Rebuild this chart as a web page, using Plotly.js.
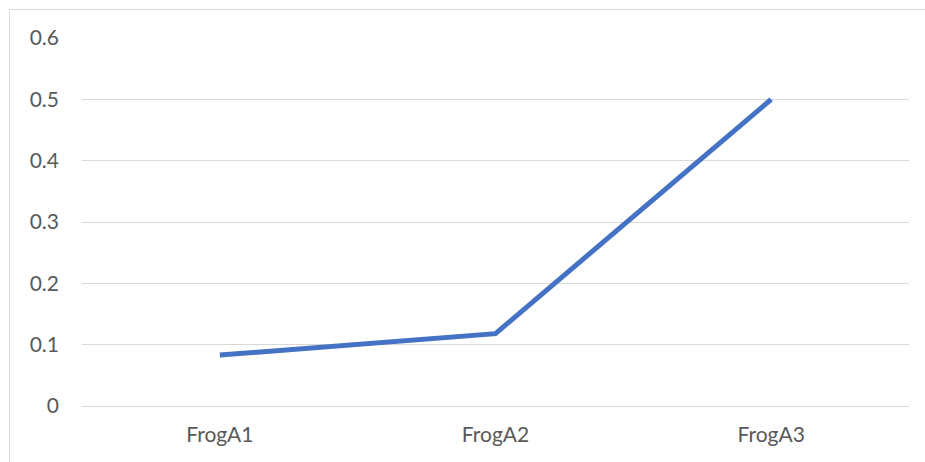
<!DOCTYPE html>
<html><head><meta charset="utf-8">
<script src="https://cdn.plot.ly/plotly-3.0.1.min.js"></script>
<style>
html,body{margin:0;padding:0;background:#fff;}
#wrap{position:relative;width:925px;height:462px;overflow:hidden;}
#chart{width:925px;height:462px;}
#frame{position:absolute;left:9px;top:9px;width:940px;height:470px;border:1px solid #d9d9d9;pointer-events:none;}
</style></head>
<body>
<div id="wrap"><div id="chart"></div><div id="frame"></div></div>
<script>
var categories = ["FrogA1", "FrogA2", "FrogA3"];
var values = [0.083, 0.118, 0.5];
var yTicks = [0, 0.1, 0.2, 0.3, 0.4, 0.5, 0.6];
var yTickLabels = ["0", "0.1", "0.2", "0.3", "0.4", "0.5", "0.6"];

var trace = {
  x: categories, y: values, type: "scatter", mode: "lines",
  line: {color: "#4472C4", width: 5},
  hoverinfo: "skip"
};
var layout = {
  width: 925, height: 462,
  margin: {l: 82, r: 16, t: 38, b: 56, pad: 0},
  paper_bgcolor: "rgba(0,0,0,0)", plot_bgcolor: "#fff",
  showlegend: false,
  font: {family: "Lato, 'Open Sans', sans-serif", size: 21, color: "#595959"},
  xaxis: {type: "category", range: [-0.5, 2.5], showgrid: false, zeroline: false,
          showline: false, ticks: "", ticklabelstandoff: 14, fixedrange: true},
  yaxis: {range: [0, 0.6], tickvals: yTicks, ticktext: yTickLabels, showgrid: true,
          gridcolor: "#d9d9d9", gridwidth: 1, zeroline: true, zerolinecolor: "#d9d9d9",
          zerolinewidth: 1, showline: false, ticks: "", ticklabelstandoff: 22, fixedrange: true}
};
Plotly.newPlot("chart", [trace], layout, {staticPlot: true, displayModeBar: false});
</script>
</body></html>
